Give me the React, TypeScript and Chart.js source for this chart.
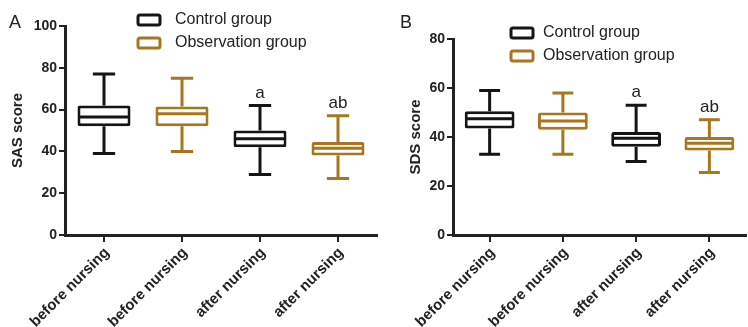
import React, { useEffect, useRef } from 'react';
import { Chart, registerables } from 'chart.js';

Chart.register(...registerables);

const FONT = 'Liberation Sans, Arial, Helvetica, sans-serif';

// ---- data ----
const categories = ['before nursing', 'before nursing', 'after nursing', 'after nursing'];
const groupNames = ['Control group', 'Observation group'];
const groupOfBox = [0, 1, 0, 1];
const groupColors = ['#151515', '#a8761f'];
const notes = ['', '', 'a', 'ab'];

const sasMin = [39, 40, 29, 27];
const sasQ1 = [52, 52, 42, 38];
const sasMedian = [56.5, 58, 46, 41.5];
const sasQ3 = [62, 61.5, 50, 44.5];
const sasMax = [77, 75, 62, 57];

const sdsMin = [33, 33, 30, 25.5];
const sdsQ1 = [43.5, 43, 36, 34.5];
const sdsMedian = [47.5, 46.5, 39.5, 37.5];
const sdsQ3 = [50.5, 50, 42, 40];
const sdsMax = [59, 58, 53, 47];

const sasTicks = [0, 20, 40, 60, 80, 100];
const sdsTicks = [0, 20, 40, 60, 80];

type PanelProps = {
  letter: string;
  yTitle: string;
  mins: number[];
  q1s: number[];
  meds: number[];
  q3s: number[];
  maxs: number[];
  ticks: number[];
  width: number;
  left: number;
  yAxisWidth: number;
  padTop: number;
  padRight: number;
  titlePad: number;
  letterX: number;
  legendIconX: number;
  legendTextX: number;
  legendRowY: number;
};

function Panel(p: PanelProps) {
  const ref = useRef<HTMLCanvasElement | null>(null);
  useEffect(() => {
    if (!ref.current) return;
    const datasets = groupNames.map((name, g) => ({
      label: name,
      data: categories.map((_, i) => (groupOfBox[i] === g ? [p.q1s[i], p.q3s[i]] : null)),
      backgroundColor: '#ffffff',
      borderColor: groupColors[g],
      borderWidth: 3,
      borderSkipped: false,
      borderRadius: 2,
      grouped: false,
      barPercentage: 0.68,
      categoryPercentage: 1,
    }));

    const overlay = {
      id: 'overlay',
      afterDatasetsDraw(chart: any) {
        const ctx = chart.ctx as CanvasRenderingContext2D;
        const xs = chart.scales.x;
        const ys = chart.scales.y;
        ctx.save();
        ctx.lineWidth = 3;
        ctx.lineCap = 'butt';
        for (let i = 0; i < categories.length; i++) {
          const g = groupOfBox[i];
          const bar = chart.getDatasetMeta(g).data[i] as any;
          const cx = xs.getPixelForValue(i);
          const w = bar.width;
          const cap = w * 0.42;
          const yMin = ys.getPixelForValue(p.mins[i]);
          const yQ1 = ys.getPixelForValue(p.q1s[i]);
          const yMed = ys.getPixelForValue(p.meds[i]);
          const yQ3 = ys.getPixelForValue(p.q3s[i]);
          const yMax = ys.getPixelForValue(p.maxs[i]);
          ctx.strokeStyle = groupColors[g];
          ctx.beginPath();
          ctx.moveTo(cx - w / 2 + 1, yMed);
          ctx.lineTo(cx + w / 2 - 1, yMed);
          ctx.moveTo(cx, yQ3);
          ctx.lineTo(cx, yMax);
          ctx.moveTo(cx - cap / 2, yMax);
          ctx.lineTo(cx + cap / 2, yMax);
          ctx.moveTo(cx, yQ1);
          ctx.lineTo(cx, yMin);
          ctx.moveTo(cx - cap / 2, yMin);
          ctx.lineTo(cx + cap / 2, yMin);
          ctx.stroke();
          if (notes[i]) {
            ctx.fillStyle = '#222';
            ctx.font = `17px ${FONT}`;
            ctx.textAlign = 'center';
            ctx.textBaseline = 'bottom';
            ctx.fillText(notes[i], cx, yMax - 4);
          }
        }
        // panel letter
        ctx.fillStyle = '#222';
        ctx.font = `18px ${FONT}`;
        ctx.textAlign = 'left';
        ctx.textBaseline = 'alphabetic';
        ctx.fillText(p.letter, p.letterX, 28);
        // legend
        chart.data.datasets.forEach((ds: any, g: number) => {
          const cy = p.legendRowY + g * 23;
          ctx.strokeStyle = ds.borderColor;
          ctx.lineWidth = 3;
          ctx.beginPath();
          (ctx as any).roundRect(p.legendIconX, cy - 5, 22, 10, 2);
          ctx.stroke();
          ctx.fillStyle = '#222';
          ctx.font = `16px ${FONT}`;
          ctx.textBaseline = 'middle';
          ctx.textAlign = 'left';
          ctx.fillText(ds.label, p.legendTextX, cy);
        });
        ctx.restore();
      },
    };

    const chart = new Chart(ref.current, {
      type: 'bar',
      data: { labels: categories, datasets: datasets as any },
      options: {
        responsive: false,
        animation: false,
        layout: { padding: { top: p.padTop, right: p.padRight, left: 0, bottom: 0 } },
        plugins: { legend: { display: false }, tooltip: { enabled: false } },
        scales: {
          x: {
            grid: {
              display: true,
              drawOnChartArea: false,
              drawTicks: true,
              tickLength: 7,
              offset: false,
              color: '#222',
              lineWidth: 2,
            },
            border: { display: true, color: '#222', width: 3 },
            ticks: {
              minRotation: 45,
              maxRotation: 45,
              padding: 2,
              labelOffset: 3,
              color: '#222',
              font: { family: FONT, size: 15, weight: 'bold' },
            },
            afterFit(scale: any) {
              scale.height = 92;
            },
          },
          y: {
            min: p.ticks[0],
            max: p.ticks[p.ticks.length - 1],
            afterBuildTicks(scale: any) {
              scale.ticks = p.ticks.map((v) => ({ value: v }));
            },
            grid: {
              display: true,
              drawOnChartArea: false,
              drawTicks: true,
              tickLength: 6,
              color: '#222',
              lineWidth: 2,
            },
            border: { display: true, color: '#222', width: 3 },
            ticks: {
              padding: 2,
              color: '#222',
              font: { family: FONT, size: 14, weight: 'bold' },
            },
            title: {
              display: true,
              text: p.yTitle,
              color: '#222',
              font: { family: FONT, size: 15, weight: 'bold' },
              padding: { top: p.titlePad, bottom: 0 },
            },
            afterFit(scale: any) {
              scale.width = p.yAxisWidth;
            },
          },
        },
      } as any,
      plugins: [overlay],
    });
    return () => chart.destroy();
  }, []);
  return (
    <canvas
      ref={ref}
      width={p.width}
      height={327}
      style={{ position: 'absolute', left: p.left, top: 0, width: p.width, height: 327 }}
    />
  );
}

export default function App() {
  return (
    <div style={{ position: 'absolute', left: 0, top: 0, width: 748, height: 327, background: '#ffffff', overflow: 'hidden' }}>
      <Panel
        letter="A"
        yTitle="SAS score"
        mins={sasMin}
        q1s={sasQ1}
        meds={sasMedian}
        q3s={sasQ3}
        maxs={sasMax}
        ticks={sasTicks}
        width={380}
        left={0}
        yAxisWidth={65}
        padTop={26}
        padRight={3}
        titlePad={9}
        letterX={9}
        legendIconX={138}
        legendTextX={175}
        legendRowY={20}
      />
      <Panel
        letter="B"
        yTitle="SDS score"
        mins={sdsMin}
        q1s={sdsQ1}
        meds={sdsMedian}
        q3s={sdsQ3}
        maxs={sdsMax}
        ticks={sdsTicks}
        width={368}
        left={380}
        yAxisWidth={73}
        padTop={39}
        padRight={2}
        titlePad={27}
        letterX={20}
        legendIconX={131}
        legendTextX={163}
        legendRowY={33}
      />
    </div>
  );
}
